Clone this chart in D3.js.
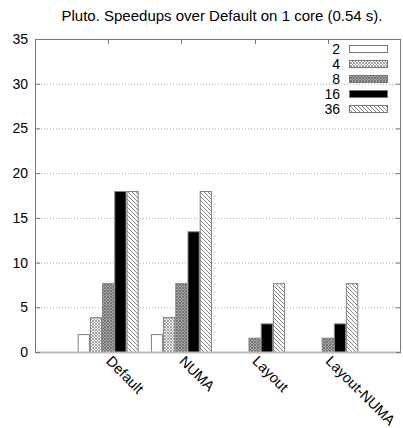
<!DOCTYPE html>
<html>
<head>
<meta charset="utf-8">
<script src="https://cdn.jsdelivr.net/npm/d3@7"></script>
<style>
  body { margin: 0; background: #fff; }
  text { font-family: "Liberation Sans", Arial, sans-serif; fill: #000; }
</style>
</head>
<body>
<div id="chart"></div>
<script>
const width = 403
const height = 428

/* data */
const categories = ["Default", "NUMA", "Layout", "Layout-NUMA"]
const series = ["2", "4", "8", "16", "36"]
const cores2 = [2.0, 2.0, 0, 0]
const cores4 = [3.9, 3.9, 0, 0]
const cores8 = [7.7, 7.7, 1.6, 1.6]
const cores16 = [18, 13.5, 3.2, 3.2]
const cores36 = [18, 18, 7.7, 7.7]
const yTicks = [0, 5, 10, 15, 20, 25, 30, 35]

const values = [cores2, cores4, cores8, cores16, cores36]
const fills = ["#fff", "url(#p4)", "url(#p8)", "#000", "url(#p36)"]

const margin = { top: 39, right: 2, bottom: 76, left: 35 }

const x = d3.scaleLinear()
  .domain([-1, categories.length])
  .range([margin.left, width - margin.right])
const y = d3.scaleLinear()
  .domain([0, 35])
  .range([height - margin.bottom, margin.top])

const svg = d3.select("#chart").append("svg")
  .attr("width", width)
  .attr("height", height)

/* fill patterns */
const defs = svg.append("defs")
const p4 = defs.append("pattern").attr("id", "p4")
  .attr("width", 3).attr("height", 3).attr("patternUnits", "userSpaceOnUse")
p4.append("rect").attr("width", 3).attr("height", 3).attr("fill", "#fff")
p4.append("path").attr("d", "M0,0L3,3M3,0L0,3").attr("stroke", "#8a8a8a").attr("stroke-width", 0.8)

const p8 = defs.append("pattern").attr("id", "p8")
  .attr("width", 3).attr("height", 3).attr("patternUnits", "userSpaceOnUse")
p8.append("rect").attr("width", 3).attr("height", 3).attr("fill", "#a8a8a8")
p8.append("path").attr("d", "M0,0L3,3M3,0L0,3").attr("stroke", "#6a6a6a").attr("stroke-width", 0.8)

const p36 = defs.append("pattern").attr("id", "p36")
  .attr("width", 4).attr("height", 4).attr("patternUnits", "userSpaceOnUse")
p36.append("rect").attr("width", 4).attr("height", 4).attr("fill", "#fff")
p36.append("path").attr("d", "M-1,-1L5,5M-1,3L1,5M3,-1L5,1").attr("stroke", "#777").attr("stroke-width", 0.9)

/* title */
svg.append("text")
  .attr("x", 222).attr("y", 21)
  .attr("text-anchor", "middle")
  .style("font-size", "15px")
  .text("Pluto. Speedups over Default on 1 core (0.54 s).")

/* grid */
svg.append("g")
  .selectAll("line")
  .data(yTicks.filter(d => d > 0 && d < 35))
  .join("line")
  .attr("x1", x.range()[0]).attr("x2", x.range()[1])
  .attr("y1", d => y(d) + 0.5).attr("y2", d => y(d) + 0.5)
  .attr("stroke", "#aaa")
  .attr("stroke-width", 1)
  .attr("stroke-dasharray", "1,2")

/* bars */
const bw = 1 / (series.length + 1)
const bars = svg.append("g")
series.forEach((s, i) => {
  bars.selectAll(null)
    .data(values[i].map((v, j) => ({ v, j })).filter(d => d.v > 0))
    .join("rect")
    .attr("x", d => x(d.j + (i - 2.5) * bw) + 0.5)
    .attr("width", x(bw) - x(0) - 1)
    .attr("y", d => y(d.v) + 0.5)
    .attr("height", d => y(0) - y(d.v))
    .attr("fill", fills[i])
    .attr("stroke", "#808080")
    .attr("stroke-width", 1)
})

/* frame */
const [x0, x1] = x.range()
const [yb, yt] = y.range()
svg.append("path")
  .attr("d", `M${x0 + 0.5},${yb}V${yt + 0.5}H${x1 - 0.5}V${yb}`)
  .attr("fill", "none")
  .attr("stroke", "#777")
svg.append("line")
  .attr("x1", x0).attr("x2", x1)
  .attr("y1", yb + 0.5).attr("y2", yb + 0.5)
  .attr("stroke", "#bbb")
  .attr("stroke-width", 2)

/* y ticks */
const yAxis = svg.append("g")
yAxis.selectAll("line.l")
  .data(yTicks)
  .join("line")
  .attr("x1", x0).attr("x2", x0 + 5)
  .attr("y1", d => y(d) + 0.5).attr("y2", d => y(d) + 0.5)
  .attr("stroke", "#777")
yAxis.selectAll("line.r")
  .data(yTicks)
  .join("line")
  .attr("x1", x1 - 5).attr("x2", x1)
  .attr("y1", d => y(d) + 0.5).attr("y2", d => y(d) + 0.5)
  .attr("stroke", "#777")
yAxis.selectAll("text")
  .data(yTicks)
  .join("text")
  .attr("x", 28)
  .attr("y", d => y(d) + 5)
  .attr("text-anchor", "end")
  .style("font-size", "14px")
  .text(d => d)

/* x ticks (top mirror) and labels */
svg.append("g")
  .selectAll("line")
  .data(categories)
  .join("line")
  .attr("x1", (d, i) => Math.round(x(i)) + 0.5).attr("x2", (d, i) => Math.round(x(i)) + 0.5)
  .attr("y1", yt).attr("y2", yt + 5)
  .attr("stroke", "#777")
svg.append("g")
  .selectAll("text")
  .data(categories)
  .join("text")
  .attr("transform", (d, i) => `translate(${x(i) - 3},${yb + 10}) rotate(45)`)
  .style("font-size", "14.5px")
  .text(d => d)

/* legend */
const legend = svg.append("g")
series.forEach((s, i) => {
  const ly = 49 + i * 15
  legend.append("text")
    .attr("x", 340).attr("y", ly + 5)
    .attr("text-anchor", "end")
    .style("font-size", "14px")
    .text(s)
  legend.append("rect")
    .attr("x", 349.5).attr("y", ly - 3.5)
    .attr("width", 38).attr("height", 7)
    .attr("fill", fills[i])
    .attr("stroke", "#777")
})
</script>
</body>
</html>
